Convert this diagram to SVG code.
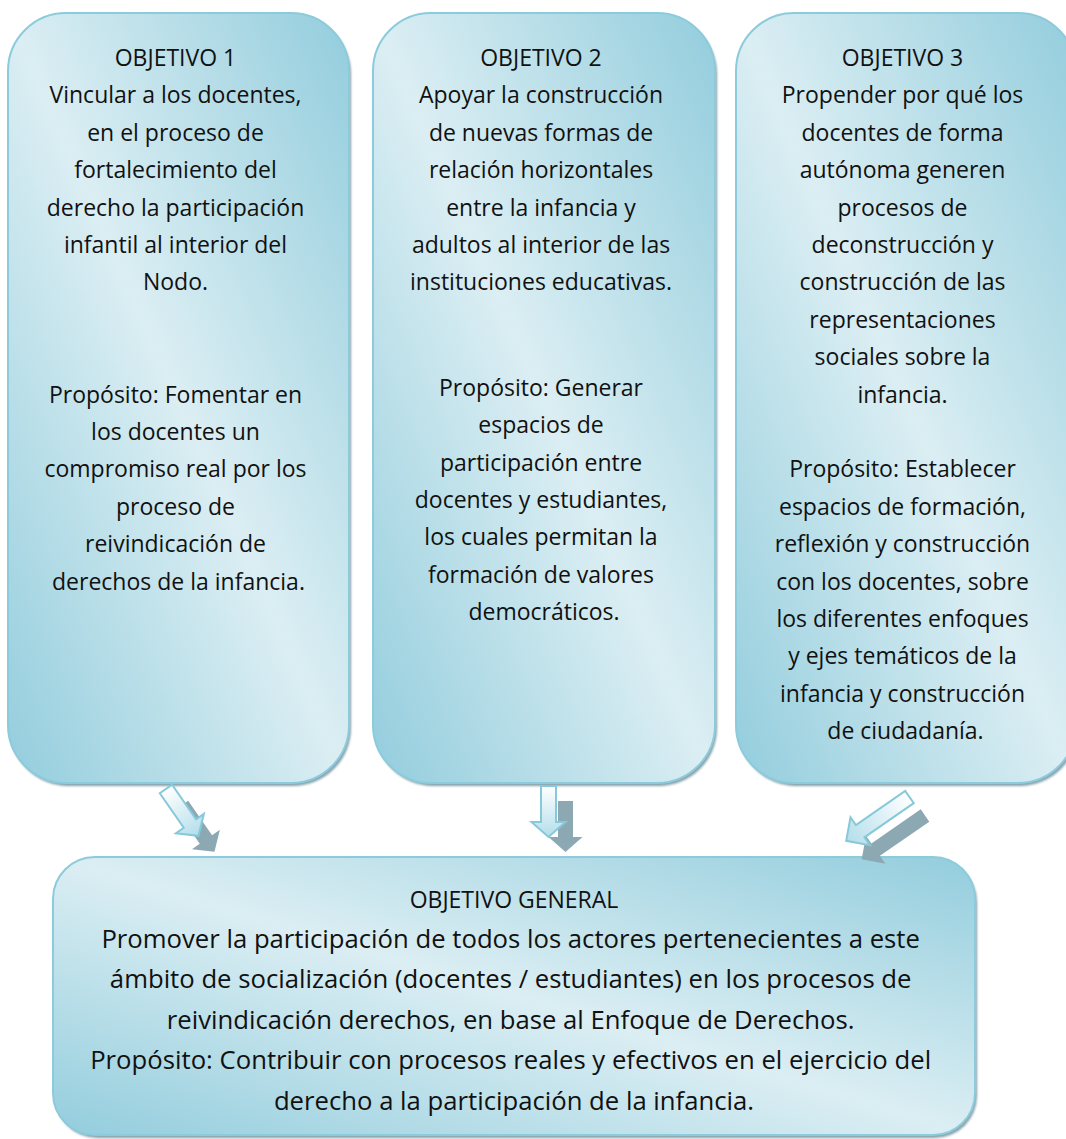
<svg xmlns="http://www.w3.org/2000/svg" width="1066" height="1139" viewBox="0 0 1066 1139">
<defs>
<linearGradient id="boxGrad" x1="0" y1="1" x2="1" y2="0">
<stop offset="0" stop-color="#93cddd"/>
<stop offset="0.5" stop-color="#dbeef3"/>
<stop offset="1" stop-color="#93cddd"/>
</linearGradient>
<linearGradient id="arrowGrad" x1="0" y1="0" x2="1" y2="0">
<stop offset="0" stop-color="#ffffff"/>
<stop offset="1" stop-color="#b3deea"/>
</linearGradient>
<filter id="soft" x="-5%" y="-5%" width="110%" height="110%">
<feGaussianBlur stdDeviation="1"/>
</filter>
</defs>
<style>
.shadow{fill:#86a3ad;filter:url(#soft);}
.box{fill:url(#boxGrad);stroke:#8ccbdb;stroke-width:2;}
.t{font-family:"Open Sans","Liberation Sans",sans-serif;font-size:23px;fill:#111;text-anchor:middle;}
.tb{font-family:"Open Sans","Liberation Sans",sans-serif;font-size:25.7px;fill:#111;text-anchor:middle;}
.arr{fill:url(#arrowGrad);stroke:#86c9da;stroke-width:2;stroke-linejoin:miter;}
.arrS{fill:#8ca9b3;}
</style>
<rect width="1066" height="1139" fill="#ffffff"/>

<g id="objetivo1">
<rect class="shadow" x="10" y="16" width="341" height="770" rx="58"/>
<rect class="box" x="8" y="13" width="341" height="770" rx="58"/>
<text class="t">
<tspan x="178.5" y="66">OBJETIVO 1</tspan>
<tspan x="178.5" y="103.4">Vincular a los docentes,</tspan>
<tspan x="178.5" y="140.8">en el proceso de</tspan>
<tspan x="178.5" y="178.2">fortalecimiento del</tspan>
<tspan x="178.5" y="215.6">derecho la participación</tspan>
<tspan x="178.5" y="253">infantil al interior del</tspan>
<tspan x="178.5" y="290.4">Nodo.</tspan>
<tspan x="178.5" y="402.6">Propósito: Fomentar en</tspan>
<tspan x="178.5" y="440">los docentes un</tspan>
<tspan x="178.5" y="477.4">compromiso real por los</tspan>
<tspan x="178.5" y="514.8">proceso de</tspan>
<tspan x="178.5" y="552.2">reivindicación de</tspan>
<tspan x="178.5" y="589.6">derechos de la infancia.</tspan>
</text>
</g>

<g id="objetivo2">
<rect class="shadow" x="375" y="16" width="342" height="770" rx="58"/>
<rect class="box" x="373" y="13" width="342" height="770" rx="58"/>
<text class="t">
<tspan x="544" y="66">OBJETIVO 2</tspan>
<tspan x="544" y="103.4">Apoyar la construcción</tspan>
<tspan x="544" y="140.8">de nuevas formas de</tspan>
<tspan x="544" y="178.2">relación horizontales</tspan>
<tspan x="544" y="215.6">entre la infancia y</tspan>
<tspan x="544" y="253">adultos al interior de las</tspan>
<tspan x="544" y="290.4">instituciones educativas.</tspan>
<tspan x="544" y="395.8">Propósito: Generar</tspan>
<tspan x="544" y="433.2">espacios de</tspan>
<tspan x="544" y="470.6">participación entre</tspan>
<tspan x="544" y="508">docentes y estudiantes,</tspan>
<tspan x="544" y="545.4">los cuales permitan la</tspan>
<tspan x="544" y="582.8">formación de valores</tspan>
<tspan x="544" y="620.2">democráticos.</tspan>
</text>
</g>

<g id="objetivo3">
<rect class="shadow" x="738" y="16" width="340" height="770" rx="58"/>
<rect class="box" x="736" y="13" width="340" height="770" rx="58"/>
<text class="t">
<tspan x="905.5" y="66">OBJETIVO 3</tspan>
<tspan x="905.5" y="103.4">Propender por qué los</tspan>
<tspan x="905.5" y="140.8">docentes de forma</tspan>
<tspan x="905.5" y="178.2">autónoma generen</tspan>
<tspan x="905.5" y="215.6">procesos de</tspan>
<tspan x="905.5" y="253">deconstrucción y</tspan>
<tspan x="905.5" y="290.4">construcción de las</tspan>
<tspan x="905.5" y="327.8">representaciones</tspan>
<tspan x="905.5" y="365.2">sociales sobre la</tspan>
<tspan x="905.5" y="402.6">infancia.</tspan>
<tspan x="905.5" y="477.4">Propósito: Establecer</tspan>
<tspan x="905.5" y="514.8">espacios de formación,</tspan>
<tspan x="905.5" y="552.2">reflexión y construcción</tspan>
<tspan x="905.5" y="589.6">con los docentes, sobre</tspan>
<tspan x="905.5" y="627">los diferentes enfoques</tspan>
<tspan x="905.5" y="664.4">y ejes temáticos de la</tspan>
<tspan x="905.5" y="701.8">infancia y construcción</tspan>
<tspan x="905.5" y="739.2">de ciudadanía.</tspan>
</text>
</g>

<g id="objetivo-general">
<rect class="shadow" x="55" y="860" width="922" height="278" rx="42"/>
<rect class="box" x="53" y="857" width="922" height="278" rx="42"/>
<text class="t"><tspan x="514" y="908">OBJETIVO GENERAL</tspan></text>
<text class="tb">
<tspan x="514" y="947.5">Promover la participación de todos los actores pertenecientes a este</tspan>
<tspan x="514" y="988">ámbito de socialización (docentes / estudiantes) en los procesos de</tspan>
<tspan x="514" y="1028.5">reivindicación derechos, en base al Enfoque de Derechos.</tspan>
<tspan x="514" y="1069">Propósito: Contribuir con procesos reales y efectivos en el ejercicio del</tspan>
<tspan x="514" y="1109.5">derecho a la participación de la infancia.</tspan>
</text>
</g>

<g id="connectors">
<g transform="translate(182,805) rotate(55.3)">
<path class="arrS" d="M0,-7.5 L42,-7.5 L42,-17 L57,0 L42,17 L42,7.5 L0,7.5 Z"/>
</g>
<g transform="translate(166,789) rotate(55.3)">
<path class="arr" d="M0,-7.5 L42,-7.5 L42,-17 L57,0 L42,17 L42,7.5 L0,7.5 Z"/>
</g>
<g transform="translate(565.5,801) rotate(90)">
<path class="arrS" d="M0,-7.5 L36,-7.5 L36,-17 L51,0 L36,17 L36,7.5 L0,7.5 Z"/>
</g>
<g transform="translate(548.5,786) rotate(90)">
<path class="arr" d="M0,-7.5 L36,-7.5 L36,-17 L51,0 L36,17 L36,7.5 L0,7.5 Z"/>
</g>
<g transform="translate(925,815.5) rotate(145.3)">
<path class="arrS" d="M0,-7.5 L60,-7.5 L60,-17 L77,0 L60,17 L60,7.5 L0,7.5 Z"/>
</g>
<g transform="translate(909.5,797) rotate(145.3)">
<path class="arr" d="M0,-7.5 L60,-7.5 L60,-17 L77,0 L60,17 L60,7.5 L0,7.5 Z"/>
</g>
</g>
</svg>
